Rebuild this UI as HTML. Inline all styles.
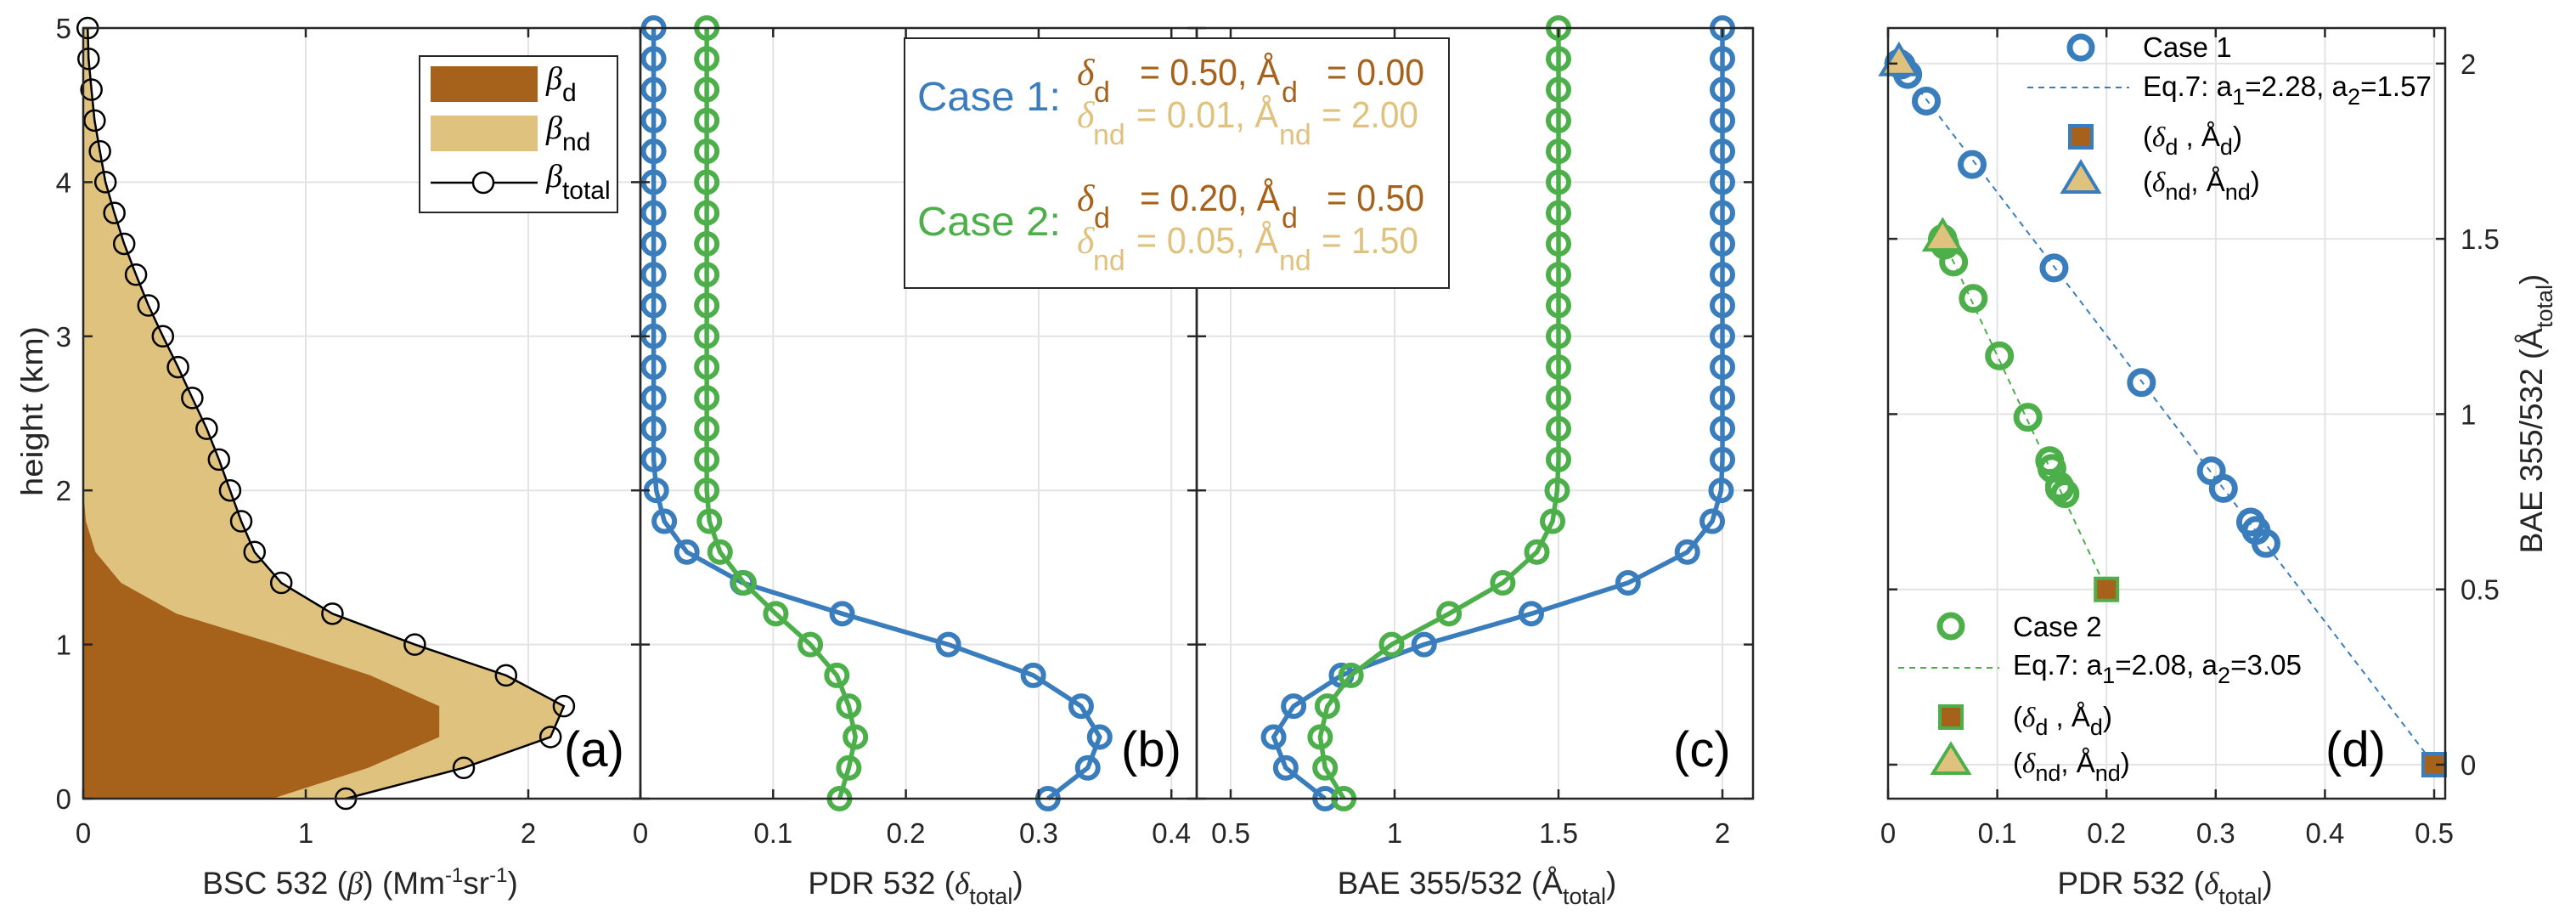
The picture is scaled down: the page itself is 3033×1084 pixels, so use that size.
<!DOCTYPE html>
<html><head><meta charset="utf-8"><style>
html,body{margin:0;padding:0;background:#fff;}
svg{display:block;font-family:"Liberation Sans",sans-serif;}
</style></head><body>
<svg id="chart" width="3033" height="1084" viewBox="0 0 3033 1084" xmlns="http://www.w3.org/2000/svg">
<g id="layer"></g>
</svg>
<script>
const heights=[0,0.2,0.4,0.6,0.8,1.0,1.2,1.4,1.6,1.8,2.0,2.2,2.4,2.6,2.8,3.0,3.2,3.4,3.6,3.8,4.0,4.2,4.4,4.6,4.8,5.0];
const betaTotal=[1.18,1.71,2.10,2.16,1.90,1.49,1.12,0.89,0.77,0.71,0.66,0.61,0.555,0.49,0.426,0.358,0.293,0.237,0.184,0.14,0.10,0.075,0.051,0.037,0.024,0.02];
const betaDust=[0.85,1.28,1.60,1.60,1.29,0.87,0.42,0.17,0.055,0.012,0,0,0,0,0,0,0,0,0,0,0,0,0,0,0,0];
const pdrCase1=[0.307,0.337,0.346,0.332,0.296,0.232,0.152,0.077,0.035,0.018,0.012,0.01,0.01,0.01,0.01,0.01,0.01,0.01,0.01,0.01,0.01,0.01,0.01,0.01,0.01,0.01];
const pdrCase2=[0.150,0.157,0.162,0.157,0.148,0.128,0.102,0.078,0.060,0.052,0.05,0.05,0.05,0.05,0.05,0.05,0.05,0.05,0.05,0.05,0.05,0.05,0.05,0.05,0.05,0.05];
const baeCase1=[0.788,0.668,0.631,0.692,0.838,1.09,1.417,1.712,1.893,1.969,1.996,2.0,2.0,2.0,2.0,2.0,2.0,2.0,2.0,2.0,2.0,2.0,2.0,2.0,2.0,2.0];
const baeCase2=[0.845,0.788,0.773,0.795,0.867,0.991,1.166,1.33,1.434,1.482,1.496,1.5,1.5,1.5,1.5,1.5,1.5,1.5,1.5,1.5,1.5,1.5,1.5,1.5,1.5,1.5];
const dustPdr=[0.50,0.20];
const dustBae=[0.00,0.50];
const ndPdr=[0.01,0.05];
const ndBae=[2.00,1.50];
const ticksA=[0,1,2];
const ticksB=[0,0.1,0.2,0.3,0.4];
const ticksC=[0.5,1,1.5,2];
const ticksD=[0,0.1,0.2,0.3,0.4,0.5];
const ticksH=[0,1,2,3,4,5];
const ticksDY=[0,0.5,1,1.5,2];

const NS="http://www.w3.org/2000/svg";
const L=document.getElementById('layer');
const BLUE="#3a7dbd",GREEN="#4daf4a",BROWN="#a6611a",TAN="#dfc27d";
function el(t,a,p){const e=document.createElementNS(NS,t);for(const k in a)e.setAttribute(k,a[k]);(p||L).appendChild(e);return e;}
function lin(d0,d1,p0,p1){return v=>p0+(v-d0)*(p1-p0)/(d1-d0);}
const yH=lin(0,5,940,33);
const xA=lin(0,1,98,360), xB=lin(0,0.1,754,910.3), xC=lin(0.5,1,1449,1642), xD=lin(0,0.1,2223,2351.6), yD=lin(0,0.5,900,693.7);
const TOP=33,BOT=940;

function frame(name,x0,x1,xs,xticks,yfun,yticks){
  const g=el('g',{});
  
  
  xticks.forEach(t=>{const x=xs(t);const l=el('line',{x1:x,x2:x,y1:TOP,y2:BOT,stroke:'#e3e3e3','stroke-width':2},g);
    });
  yticks.forEach(t=>{const y=yfun(t);const l=el('line',{x1:x0,x2:x1,y1:y,y2:y,stroke:'#e3e3e3','stroke-width':2},g);
    });
  return g;
}
function box(name,x0,x1,xs,xticks,yfun,yticks,xlabels,ylabelSide){
  const g=el('g',{});
  
  
  el('rect',{x:x0,y:TOP,width:x1-x0,height:BOT-TOP,fill:'none',stroke:'#262626','stroke-width':2.5},g);
  xticks.forEach(t=>{const x=xs(t);
    el('line',{x1:x,x2:x,y1:BOT,y2:BOT-11,stroke:'#262626','stroke-width':2.5},g);
    el('line',{x1:x,x2:x,y1:TOP,y2:TOP+11,stroke:'#262626','stroke-width':2.5},g);
    if(xlabels){const tx=el('text',{x:x,y:992,'font-size':33,'text-anchor':'middle',fill:'#262626'},g);tx.textContent=String(t);
      }
  });
  yticks.forEach(t=>{const y=yfun(t);
    el('line',{x1:x0,x2:x0+11,y1:y,y2:y,stroke:'#262626','stroke-width':2.5},g);
    el('line',{x1:x1,x2:x1-11,y1:y,y2:y,stroke:'#262626','stroke-width':2.5},g);
    if(ylabelSide==='left'){const tx=el('text',{x:x0-14,y:y+12,'font-size':33,'text-anchor':'end',fill:'#262626'},g);tx.textContent=String(t);
      }
    if(ylabelSide==='right'){const tx=el('text',{x:x1+18,y:y+12,'font-size':33,'text-anchor':'start',fill:'#262626'},g);tx.textContent=String(t);
      }
  });
}
function series(name,xs,ys,xv,yv,color,lw,r,sw){
  const g=el('g',{});
  
  
  const pts=xv.map((v,i)=>xs(v)+','+ys(yv[i])).join(' ');
  if(lw>0)el('polyline',{points:pts,fill:'none',stroke:color,'stroke-width':lw,'stroke-linejoin':'round'},g);
  xv.forEach((v,i)=>{const c=el('circle',{cx:xs(v),cy:ys(yv[i]),r:r,fill:'none',stroke:color,'stroke-width':sw},g);
    });
}

// Panel a
frame('panel-a-grid',98,754,xA,ticksA,yH,ticksH);
(function(){
  const g=el('g',{});
  
  
  let p1=heights.map((h,i)=>xA(betaTotal[i])+','+yH(h)).join(' ')+' '+xA(0)+','+yH(5)+' '+xA(0)+','+yH(0);
  const a=el('polygon',{points:p1,fill:TAN},g);
  
  let p2=heights.map((h,i)=>xA(betaDust[i])+','+yH(h)).join(' ')+' '+xA(0)+','+yH(5)+' '+xA(0)+','+yH(0);
  const b=el('polygon',{points:p2,fill:BROWN},g);
  
})();
series('beta-total-series',xA,yH,betaTotal,heights,'#000',2.5,12,2.5);
box('panel-a-axes',98,754,xA,ticksA,yH,ticksH,true,'left');

// Panel b
frame('panel-b-grid',754,1409,xB,ticksB,yH,ticksH);
series('pdr-case1-series',xB,yH,pdrCase1,heights,BLUE,5.5,12,6);
series('pdr-case2-series',xB,yH,pdrCase2,heights,GREEN,5.5,12,6);
box('panel-b-axes',754,1409,xB,ticksB,yH,ticksH,true,null);

// Panel c
frame('panel-c-grid',1409,2064,xC,ticksC,yH,ticksH);
series('bae-case1-series',xC,yH,baeCase1,heights,BLUE,5.5,12,6);
series('bae-case2-series',xC,yH,baeCase2,heights,GREEN,5.5,12,6);
box('panel-c-axes',1409,2064,xC,ticksC,yH,ticksH,true,null);

// Panel d
frame('panel-d-grid',2223,2879,xD,ticksD,yD,ticksDY);
(function(){
  const cols=[BLUE,GREEN];
  [0,1].forEach(k=>{
    const l=el('line',{x1:xD(ndPdr[k]),y1:yD(ndBae[k]),x2:xD(dustPdr[k]),y2:yD(dustBae[k]),stroke:cols[k],'stroke-width':2,'stroke-dasharray':'7,6'});
    
  });
})();
series('scatter-case1',xD,yD,pdrCase1,baeCase1,BLUE,0,13.5,7);
series('scatter-case2',xD,yD,pdrCase2,baeCase2,GREEN,0,13.5,7);
function sq(cx,cy,c,p,name){const s=el('rect',{x:cx-13,y:cy-13,width:26,height:26,fill:BROWN,stroke:c,'stroke-width':4},p);
  }
function tri(cx,cy,c,p,name){const s=el('polygon',{points:(cx-21)+','+(cy+13)+' '+(cx+21)+','+(cy+13)+' '+cx+','+(cy-22),fill:TAN,stroke:c,'stroke-width':4},p);
  }
[0,1].forEach(k=>{const c=k?GREEN:BLUE;
  sq(xD(dustPdr[k]),yD(dustBae[k]),c,L,'dust-endmember-marker');
  tri(xD(ndPdr[k]),yD(ndBae[k]),c,L,'nondust-endmember-marker');});
box('panel-d-axes',2223,2879,xD,ticksD,yD,ticksDY,true,'right');
</script>

<svg style="position:absolute;left:0;top:0" width="3033" height="1084" viewBox="0 0 3033 1084" xmlns="http://www.w3.org/2000/svg" font-family="Liberation Sans, sans-serif">
<text transform="translate(50,484) rotate(-90)" text-anchor="middle" font-size="36" fill="#262626" textLength="200" lengthAdjust="spacingAndGlyphs">height (km)</text>
<text x="424" y="1052" text-anchor="middle" font-size="37" fill="#262626">BSC 532 (<tspan font-style="italic" font-family="Liberation Serif, serif">β</tspan>) (Mm<tspan dy="-14" font-size="24">-1</tspan><tspan dy="14">sr</tspan><tspan dy="-14" font-size="24">-1</tspan><tspan dy="14">)</tspan></text>
<text x="1078" y="1052" text-anchor="middle" font-size="37" fill="#262626">PDR 532 (<tspan font-style="italic" font-family="Liberation Serif, serif">δ</tspan><tspan dy="12" font-size="27">total</tspan><tspan dy="-12">)</tspan></text>
<text x="1739" y="1052" text-anchor="middle" font-size="37" fill="#262626">BAE 355/532 (Å<tspan dy="12" font-size="27">total</tspan><tspan dy="-12">)</tspan></text>
<text x="2549" y="1052" text-anchor="middle" font-size="37" fill="#262626">PDR 532 (<tspan font-style="italic" font-family="Liberation Serif, serif">δ</tspan><tspan dy="12" font-size="27">total</tspan><tspan dy="-12">)</tspan></text>
<text transform="translate(2993,487) rotate(-90)" text-anchor="middle" font-size="37" fill="#262626">BAE 355/532 (Å<tspan dy="12" font-size="27">total</tspan><tspan dy="-12">)</tspan></text>

<text x="664" y="902" font-size="58" fill="#000">(a)</text>
<text x="1320" y="902" font-size="58" fill="#000">(b)</text>
<text x="1970" y="902" font-size="58" fill="#000">(c)</text>
<text x="2738" y="902" font-size="58" fill="#000">(d)</text>

<g>
<rect x="494" y="66" width="233" height="184" fill="#fff" stroke="#262626" stroke-width="2"/>
<rect x="507" y="78" width="126" height="42" fill="#a6611a"/>
<rect x="507" y="136" width="126" height="42" fill="#dfc27d"/>
<line x1="507" y1="215" x2="633" y2="215" stroke="#000" stroke-width="2.5"/>
<circle cx="569" cy="215" r="12" fill="#fff" stroke="#000" stroke-width="2.5"/>
<text x="643" y="105" font-size="38" font-style="italic" font-family="Liberation Serif, serif">β<tspan dy="14" font-size="30" font-style="normal" font-family="Liberation Sans, sans-serif">d</tspan></text>
<text x="643" y="163" font-size="38" font-style="italic" font-family="Liberation Serif, serif">β<tspan dy="14" font-size="30" font-style="normal" font-family="Liberation Sans, sans-serif">nd</tspan></text>
<text x="643" y="220" font-size="38" font-style="italic" font-family="Liberation Serif, serif">β<tspan dy="14" font-size="30" font-style="normal" font-family="Liberation Sans, sans-serif">total</tspan></text>
</g>

<g>
<rect x="1065" y="45" width="641" height="294" fill="#fff" stroke="#262626" stroke-width="2"/>
<text x="1080" y="130" font-size="48" fill="#3a7dbd" textLength="169" lengthAdjust="spacingAndGlyphs">Case 1:</text>
<text x="1080" y="277" font-size="48" fill="#4daf4a" textLength="169" lengthAdjust="spacingAndGlyphs">Case 2:</text>
<g fill="#a6611a" font-size="44">
<text x="1268" y="100" font-style="italic" font-family="Liberation Serif, serif">δ</text><text x="1288" y="120" font-size="34">d</text>
<text x="1342" y="100" textLength="165" lengthAdjust="spacingAndGlyphs">= 0.50, Å</text><text x="1509" y="120" font-size="34">d</text>
<text x="1562" y="100" textLength="115" lengthAdjust="spacingAndGlyphs">= 0.00</text>
<text x="1268" y="248" font-style="italic" font-family="Liberation Serif, serif">δ</text><text x="1288" y="268" font-size="34">d</text>
<text x="1342" y="248" textLength="165" lengthAdjust="spacingAndGlyphs">= 0.20, Å</text><text x="1509" y="268" font-size="34">d</text>
<text x="1562" y="248" textLength="115" lengthAdjust="spacingAndGlyphs">= 0.50</text>
</g>
<g fill="#dfc27d" font-size="44">
<text x="1268" y="150" font-style="italic" font-family="Liberation Serif, serif">δ</text><text x="1287" y="170" font-size="34">nd</text>
<text x="1338" y="150" textLength="167" lengthAdjust="spacingAndGlyphs">= 0.01, Å</text><text x="1506" y="170" font-size="34">nd</text>
<text x="1556" y="150" textLength="114" lengthAdjust="spacingAndGlyphs">= 2.00</text>
<text x="1268" y="298" font-style="italic" font-family="Liberation Serif, serif">δ</text><text x="1287" y="318" font-size="34">nd</text>
<text x="1338" y="298" textLength="167" lengthAdjust="spacingAndGlyphs">= 0.05, Å</text><text x="1506" y="318" font-size="34">nd</text>
<text x="1556" y="298" textLength="114" lengthAdjust="spacingAndGlyphs">= 1.50</text>
</g>
</g>

<g font-size="33" fill="#000">
<circle cx="2450" cy="56" r="13" fill="none" stroke="#3a7dbd" stroke-width="7"/>
<text x="2523" y="67">Case 1</text>
<line x1="2387" y1="103" x2="2507" y2="103" stroke="#3a7dbd" stroke-width="2" stroke-dasharray="7,6"/>
<text x="2523" y="113" textLength="340" lengthAdjust="spacingAndGlyphs">Eq.7: a<tspan dy="10" font-size="27">1</tspan><tspan dy="-10">=2.28, a</tspan><tspan dy="10" font-size="27">2</tspan><tspan dy="-10">=1.57</tspan></text>
<rect x="2437" y="148" width="26" height="26" fill="#a6611a" stroke="#3a7dbd" stroke-width="4"/>
<text x="2523" y="172">(<tspan font-style="italic" font-family="Liberation Serif, serif">δ</tspan><tspan dy="10" font-size="27">d</tspan><tspan dy="-10"> ,  Å</tspan><tspan dy="10" font-size="27">d</tspan><tspan dy="-10">)</tspan></text>
<polygon points="2429,226 2471,226 2450,191" fill="#dfc27d" stroke="#3a7dbd" stroke-width="4"/>
<text x="2523" y="225">(<tspan font-style="italic" font-family="Liberation Serif, serif">δ</tspan><tspan dy="10" font-size="27">nd</tspan><tspan dy="-10">, Å</tspan><tspan dy="10" font-size="27">nd</tspan><tspan dy="-10">)</tspan></text>
</g>
<g font-size="33" fill="#000">
<circle cx="2297" cy="737" r="13" fill="none" stroke="#4daf4a" stroke-width="7"/>
<text x="2370" y="749">Case 2</text>
<line x1="2235" y1="786" x2="2354" y2="786" stroke="#4daf4a" stroke-width="2" stroke-dasharray="7,6"/>
<text x="2370" y="794" textLength="340" lengthAdjust="spacingAndGlyphs">Eq.7: a<tspan dy="10" font-size="27">1</tspan><tspan dy="-10">=2.08, a</tspan><tspan dy="10" font-size="27">2</tspan><tspan dy="-10">=3.05</tspan></text>
<rect x="2284" y="831" width="26" height="26" fill="#a6611a" stroke="#4daf4a" stroke-width="4"/>
<text x="2370" y="855">(<tspan font-style="italic" font-family="Liberation Serif, serif">δ</tspan><tspan dy="10" font-size="27">d</tspan><tspan dy="-10"> ,  Å</tspan><tspan dy="10" font-size="27">d</tspan><tspan dy="-10">)</tspan></text>
<polygon points="2276,910 2318,910 2297,876" fill="#dfc27d" stroke="#4daf4a" stroke-width="4"/>
<text x="2370" y="909">(<tspan font-style="italic" font-family="Liberation Serif, serif">δ</tspan><tspan dy="10" font-size="27">nd</tspan><tspan dy="-10">, Å</tspan><tspan dy="10" font-size="27">nd</tspan><tspan dy="-10">)</tspan></text>
</g>
</svg>
</body></html>
